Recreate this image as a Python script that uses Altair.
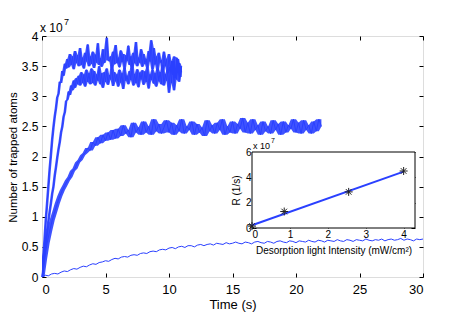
import altair as alt
import pandas as pd

# ---------------- data (values in units of 1e7 atoms) ----------------
A_dt = 0.1
A_vals = [0.00,0.32,0.62,0.95,1.22,1.50,1.78,2.02,2.28,2.48,
          2.66,2.80,2.98,3.04,3.24,3.22,3.42,3.34,3.54,3.46,
          3.62,3.48,3.70,3.52,3.66,3.45,3.75,3.55,3.68,3.50,
          3.80,3.52,3.64,3.46,3.72,3.58,3.86,3.50,3.66,3.54,
          3.74,3.47,3.69,3.56,3.88,3.52,3.63,3.49,3.78,3.55,
          3.70,3.97,3.60,3.58,3.66,3.46,3.74,3.53,3.85,3.55,
          3.64,3.48,3.76,3.57,3.70,3.45,3.68,3.59,3.84,3.52,
          3.66,3.47,3.72,3.55,3.90,3.50,3.64,3.56,3.78,3.49,
          3.70,3.54,3.62,3.46,3.75,3.58,3.93,3.44,3.80,3.53,
          3.66,3.42,3.72,3.56,3.60,3.40,3.74,3.50,3.62,3.38,
          3.70,3.44,3.58,3.36,3.66,3.30,3.64,3.40,3.55,3.32,3.50]

B_dt = 0.1
B_vals = [0.00,0.20,0.40,0.58,0.76,0.92,1.08,1.22,1.38,1.50,
          1.68,1.82,1.98,2.12,2.24,2.40,2.50,2.66,2.74,2.92,
          2.94,3.08,3.02,3.18,3.10,3.26,3.14,3.30,3.20,3.34,
          3.18,3.40,3.22,3.36,3.16,3.44,3.24,3.38,3.20,3.46,
          3.22,3.42,3.18,3.36,3.26,3.50,3.20,3.38,3.14,3.40,
          3.24,3.46,3.19,3.35,3.28,3.52,3.17,3.40,3.25,3.36,
          3.16,3.44,3.23,3.38,3.12,3.47,3.26,3.34,3.20,3.42,
          3.27,3.55,3.18,3.37,3.22,3.45,3.15,3.39,3.28,3.43,
          3.19,3.41,3.24,3.48,3.13,3.36,3.27,3.44,3.21,3.38,
          3.16,3.46,3.25,3.40,3.20,3.52,3.18,3.37,3.26,3.44,
          3.06,3.48,3.22,3.58,3.10,3.46,3.28,3.62,3.24,3.50,3.40]

C_dt = 0.2
C_vals = [0.00,0.30,0.56,0.76,0.94,1.08,1.22,1.34,1.44,1.52,
          1.60,1.66,1.76,1.80,1.90,1.94,2.02,2.06,2.14,2.10,
          2.24,2.18,2.32,2.22,2.36,2.26,2.40,2.28,2.44,2.30,
          2.46,2.34,2.52,2.38,2.44,2.32,2.56,2.40,2.48,2.36,
          2.58,2.40,2.50,2.36,2.62,2.42,2.54,2.38,2.48,2.60,
          2.40,2.56,2.36,2.52,2.42,2.62,2.38,2.50,2.44,2.58,
          2.36,2.54,2.40,2.48,2.34,2.60,2.42,2.52,2.38,2.56,
          2.44,2.62,2.36,2.50,2.40,2.58,2.38,2.54,2.46,2.64,
          2.40,2.56,2.38,2.62,2.44,2.52,2.36,2.58,2.42,2.50,
          2.38,2.60,2.44,2.54,2.36,2.58,2.40,2.52,2.46,2.62,
          2.40,2.56,2.38,2.60,2.44,2.52,2.38,2.58,2.42,2.62,2.50]

D_dt = 0.25
D_vals = [0.00,0.03,0.02,0.05,0.06,0.05,0.08,0.10,0.09,0.12,
          0.14,0.13,0.16,0.18,0.17,0.20,0.22,0.21,0.24,0.25,
          0.27,0.26,0.29,0.31,0.30,0.33,0.34,0.33,0.36,0.37,
          0.36,0.39,0.40,0.39,0.42,0.43,0.42,0.45,0.46,0.45,
          0.48,0.49,0.47,0.50,0.51,0.49,0.52,0.52,0.50,0.53,
          0.54,0.52,0.54,0.55,0.53,0.56,0.55,0.54,0.57,0.55,
          0.56,0.58,0.56,0.55,0.58,0.57,0.55,0.58,0.59,0.57,
          0.56,0.59,0.58,0.56,0.59,0.60,0.58,0.57,0.60,0.59,
          0.57,0.60,0.59,0.58,0.61,0.59,0.58,0.61,0.60,0.58,
          0.61,0.60,0.59,0.62,0.60,0.59,0.62,0.61,0.59,0.62,
          0.61,0.60,0.63,0.61,0.60,0.62,0.61,0.63,0.60,0.62,
          0.63,0.61,0.62,0.64,0.61,0.63,0.62,0.60,0.63,0.62,0.63]

x_ticks = [0, 5, 10, 15, 20, 25, 30]
y_ticks = [0, 0.5, 1, 1.5, 2, 2.5, 3, 3.5, 4]

# inset
intensity = [0.0, 0.85, 2.55, 4.0]
rate = [0.15, 1.3, 2.85, 4.5]
fit_x = [0.0, 4.0]
fit_y = [0.22, 4.45]
in_x_ticks = [0, 1, 2, 3, 4]
in_y_ticks = [0, 2, 4, 6]

# ---------------- build table ----------------
rows = []
for name, dt, vals in [("A", A_dt, A_vals), ("B", B_dt, B_vals),
                       ("C", C_dt, C_vals), ("D", D_dt, D_vals)]:
    for i, v in enumerate(vals):
        rows.append({"series": name, "t": round(i * dt, 3), "n": v})
curves = pd.DataFrame(rows)

BLUE = "#2a40ff"
FONT = "Liberation Sans"
PL = 42            # plot-area left edge inside the page
W, H = 423 - PL, 241

xs = alt.Scale(domain=[0, 30], nice=False, zero=False)
ys = alt.Scale(domain=[0, 4], nice=False, zero=False)

ax_bottom = alt.Axis(orient="bottom", values=x_ticks, offset=-4, tickSize=4, domain=False,
                     grid=False, labelPadding=6, labelFontSize=13, title="Time (s)",
                     titleFontSize=13, titleFontWeight="normal", titlePadding=2,
                     tickColor="black", labelColor="black", titleColor="black")
ax_left = alt.Axis(orient="left", values=y_ticks, offset=-4, tickSize=4, domain=False,
                   grid=False, labelPadding=4, labelFontSize=12, format="~g",
                   title="Number of trapped atoms", titleFontSize=11.5,
                   titleFontWeight="normal", titleX=-28, titleY=121,
                   tickColor="black", labelColor="black", titleColor="black")
ax_top = alt.Axis(orient="top", values=x_ticks, offset=-4, tickSize=4, domain=False,
                  grid=False, labels=False, title=None, tickColor="black")
ax_right = alt.Axis(orient="right", values=y_ticks, offset=-4, tickSize=4, domain=False,
                    grid=False, labels=False, title=None, tickColor="black")

band = alt.Chart(curves).transform_filter(
    alt.datum.series != "D"
).transform_window(
    lo="min(n)", hi="max(n)", frame=[-1, 1], groupby=["series"], sort=[alt.SortField("t")]
).mark_area(color=BLUE, opacity=0.9).encode(
    x=alt.X("t:Q", scale=xs, axis=None),
    y=alt.Y("lo:Q", scale=ys, axis=None),
    y2="hi:Q",
    detail="series:N",
)
lines = alt.Chart(curves).mark_line(color=BLUE, strokeWidth=1).encode(
    x=alt.X("t:Q", scale=xs, axis=ax_bottom),
    y=alt.Y("n:Q", scale=ys, axis=ax_left),
    detail="series:N",
)
frame_axes = alt.Chart(pd.DataFrame({"t": [0, 30], "n": [0, 4]})).mark_point(opacity=0).encode(
    x=alt.X("t:Q", scale=xs, axis=ax_top),
    y=alt.Y("n:Q", scale=ys, axis=ax_right),
)
exp_main = alt.Chart(pd.DataFrame({"s": ["x 10"]})).mark_text(
    align="left", baseline="alphabetic", fontSize=12, font=FONT, color="black"
).encode(text="s:N", x=alt.value(40 - PL), y=alt.value(-4))
exp_main7 = alt.Chart(pd.DataFrame({"s": ["7"]})).mark_text(
    align="left", baseline="alphabetic", fontSize=9, font=FONT, color="black"
).encode(text="s:N", x=alt.value(64 - PL), y=alt.value(-11))

main = alt.layer(band, lines, frame_axes, exp_main, exp_main7).resolve_axis(x="independent", y="independent")

# ---------------- inset (page pixels 252..415 x 152..228) ----------------
IL, IR, IT, IB = 252 - PL, 415 - PL, 152 - 36, 228 - 36
ixs = alt.Scale(domain=[0, 4.3], range=[IL, IR], nice=False, zero=False)
iys = alt.Scale(domain=[0, 6], range=[IB, IT], nice=False, zero=False)

iax_bottom = alt.Axis(orient="bottom", values=in_x_ticks, offset=-(H - IB) - 4, tickSize=4, domain=False,
                      grid=False, labelPadding=1, labelFontSize=10,
                      title="Desorption light Intensity (mW/cm²)", titleFontSize=10,
                      titleFontWeight="normal", titlePadding=6,
                      tickColor="black", labelColor="black", titleColor="black")
iax_left = alt.Axis(orient="left", values=in_y_ticks, offset=-IL - 4, tickSize=4, domain=False,
                    grid=False, labelPadding=1, labelFontSize=10, title="R (1/s)",
                    titleFontSize=10, titleFontWeight="normal", titlePadding=4,
                    tickColor="black", labelColor="black", titleColor="black")
iax_top = alt.Axis(orient="top", values=in_x_ticks, offset=-IT - 4, tickSize=4, domain=False,
                   grid=False, labels=False, title=None, tickColor="black")
iax_right = alt.Axis(orient="right", values=in_y_ticks, offset=-(W - IR) - 4, tickSize=4, domain=False,
                     grid=False, labels=False, title=None, tickColor="black")

box = alt.Chart(pd.DataFrame({"x0": [0], "x1": [4.3], "y0": [0], "y1": [6]})).mark_rect(
    fill="white", stroke="black", strokeWidth=1
).encode(
    x=alt.X("x0:Q", scale=ixs, axis=iax_bottom),
    x2="x1:Q",
    y=alt.Y("y0:Q", scale=iys, axis=iax_left),
    y2="y1:Q",
)
box_axes = alt.Chart(pd.DataFrame({"x": [0, 4.3], "y": [0, 6]})).mark_point(opacity=0).encode(
    x=alt.X("x:Q", scale=ixs, axis=iax_top),
    y=alt.Y("y:Q", scale=iys, axis=iax_right),
)
fit = alt.Chart(pd.DataFrame({"x": fit_x, "y": fit_y})).mark_line(color=BLUE, strokeWidth=2).encode(
    x=alt.X("x:Q", scale=ixs, axis=None),
    y=alt.Y("y:Q", scale=iys, axis=None),
)
ASTER = "M-1,0L1,0M0,-1L0,1M-0.7,-0.7L0.7,0.7M-0.7,0.7L0.7,-0.7"
pts = alt.Chart(pd.DataFrame({"x": intensity, "y": rate})).mark_point(
    shape=ASTER, size=64, filled=False, stroke="#222222", strokeWidth=1, opacity=1
).encode(
    x=alt.X("x:Q", scale=ixs, axis=None),
    y=alt.Y("y:Q", scale=iys, axis=None),
)
exp_in = alt.Chart(pd.DataFrame({"s": ["x 10"]})).mark_text(
    align="left", baseline="alphabetic", fontSize=9, font=FONT, color="black"
).encode(text="s:N", x=alt.value(IL + 1), y=alt.value(IT - 3))
exp_in7 = alt.Chart(pd.DataFrame({"s": ["7"]})).mark_text(
    align="left", baseline="alphabetic", fontSize=7, font=FONT, color="black"
).encode(text="s:N", x=alt.value(IL + 19), y=alt.value(IT - 9))

inset = alt.layer(box, box_axes, fit, pts, exp_in, exp_in7).resolve_axis(x="independent", y="independent")

chart = alt.layer(main, inset).resolve_scale(x="independent", y="independent").resolve_axis(
    x="independent", y="independent"
).properties(
    width=W, height=H,
    autosize=alt.AutoSizeParams(type="none"),
    padding={"left": PL - 8, "top": 28, "right": 20, "bottom": 40},
).configure_view(stroke="#555555", strokeWidth=1).configure_axis(
    labelFont=FONT, titleFont=FONT
).configure(background="white")

chart.save("out.html", embed_options={"renderer": "svg", "actions": False})
